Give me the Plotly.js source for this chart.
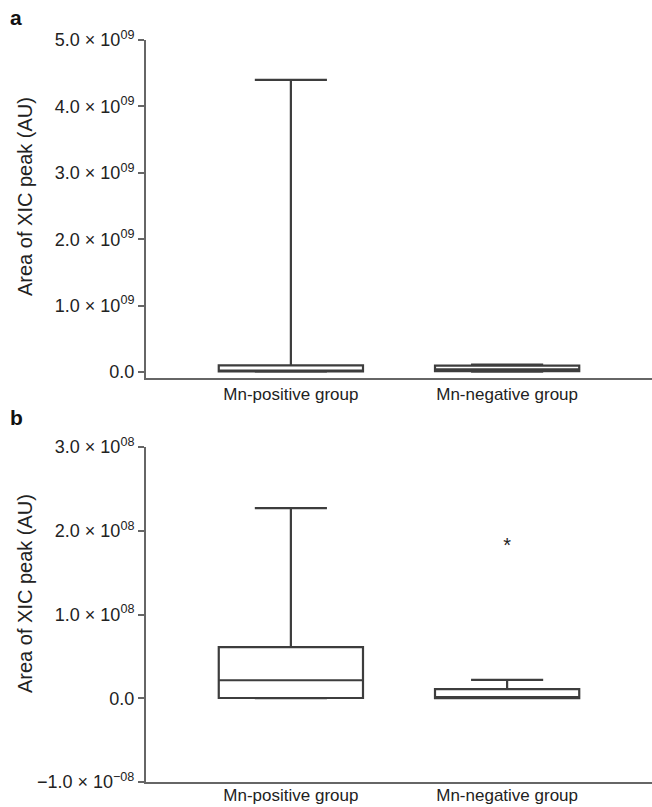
<!DOCTYPE html>
<html>
<head>
<meta charset="utf-8">
<script src="https://cdn.plot.ly/plotly-3.0.1.min.js"></script>
<style>html,body{margin:0;padding:0;background:#fff;} #chart{width:652px;height:807px;}</style>
</head>
<body>
<div id="chart"></div>
<script>
// Categories
var categories = ['Mn-positive group', 'Mn-negative group'];

// Panel a box statistics (AU)
var aLowerFence = [0.004e9, 0.006e9];
var aQ1 = [0.008e9, 0.012e9];
var aMedian = [0.015e9, 0.04e9];
var aQ3 = [0.1e9, 0.095e9];
var aUpperFence = [4.4e9, 0.11e9];

// Panel b box statistics (AU)
var bLowerFence = [0.0, 0.0];
var bQ1 = [0.003e8, 0.002e8];
var bMedian = [0.215e8, 0.005e8];
var bQ3 = [0.61e8, 0.11e8];
var bUpperFence = [2.27e8, 0.22e8];

// Panel b outlier
var bOutlierCat = ['Mn-negative group'];
var bOutlierVal = [1.92e8];

// Tick labels
var aTickVals = [0, 1e9, 2e9, 3e9, 4e9, 5e9];
var aTickText = ['0.0', '1.0 × 10<sup>09</sup>', '2.0 × 10<sup>09</sup>', '3.0 × 10<sup>09</sup>', '4.0 × 10<sup>09</sup>', '5.0 × 10<sup>09</sup>'];
var bTickVals = [-1e8, 0, 1e8, 2e8, 3e8];
var bTickText = ['−1.0 × 10<sup>−08</sup>', '0.0', '1.0 × 10<sup>08</sup>', '2.0 × 10<sup>08</sup>', '3.0 × 10<sup>08</sup>'];
var yTitle = 'Area of XIC peak (AU)';

var lineCol = '#3d3d3d';
var axisCol = '#666666';
var fontFam = 'Liberation Sans, Arial, sans-serif';

var boxStyle = {
  type: 'box',
  x: categories,
  boxpoints: false,
  width: 0.667,
  whiskerwidth: 0.5,
  fillcolor: 'rgba(255,255,255,0)',
  line: {color: lineCol, width: 2.2},
  showlegend: false,
  hoverinfo: 'skip'
};

var traceA = Object.assign({}, boxStyle, {
  lowerfence: aLowerFence, q1: aQ1, median: aMedian, q3: aQ3, upperfence: aUpperFence,
  xaxis: 'x', yaxis: 'y'
});
var traceB = Object.assign({}, boxStyle, {
  lowerfence: bLowerFence, q1: bQ1, median: bMedian, q3: bQ3, upperfence: bUpperFence,
  xaxis: 'x2', yaxis: 'y2'
});
var traceOut = {
  type: 'scatter', mode: 'text', x: bOutlierCat, y: bOutlierVal, text: ['*'],
  textposition: 'bottom center', textfont: {family: fontFam, size: 20, color: '#222'},
  xaxis: 'x2', yaxis: 'y2', showlegend: false, hoverinfo: 'skip', cliponaxis: false
};

var H = 807, W = 652;
function fy(px) { return 1 - px / H; }
var xDom = [146 / W, 1];

var xCommon = {
  type: 'category', range: [-0.67, 1.67], showline: true, linecolor: axisCol, linewidth: 2,
  ticks: '', showgrid: false, zeroline: false, fixedrange: true,
  tickfont: {family: fontFam, size: 17, color: '#222'}
};
var yCommon = {
  showline: true, linecolor: axisCol, linewidth: 2, ticks: 'outside', ticklen: 6, tickwidth: 2,
  tickcolor: axisCol, showgrid: false, zeroline: false, fixedrange: true,
  tickfont: {family: fontFam, size: 18, color: '#222'}, tickmode: 'array'
};

var titleFont = {family: fontFam, size: 20, color: '#222'};

var layout = {
  width: W, height: H,
  margin: {l: 0, r: 0, t: 0, b: 0},
  paper_bgcolor: '#ffffff', plot_bgcolor: '#ffffff',
  font: {family: fontFam, color: '#222'},
  xaxis: Object.assign({}, xCommon, {domain: xDom, anchor: 'y'}),
  yaxis: Object.assign({}, yCommon, {
    domain: [fy(378), fy(40)], anchor: 'x', range: [-0.09e9, 5e9],
    tickvals: aTickVals, ticktext: aTickText
  }),
  xaxis2: Object.assign({}, xCommon, {domain: xDom, anchor: 'y2', ticklabelstandoff: -3}),
  yaxis2: Object.assign({}, yCommon, {
    domain: [fy(782), fy(447)], anchor: 'x2', range: [-1e8, 3e8],
    tickvals: bTickVals, ticktext: bTickText
  }),
  annotations: [
    {text: '<b>a</b>', xref: 'paper', yref: 'paper', x: 8 / W, y: fy(4), xanchor: 'left', yanchor: 'top', showarrow: false, font: {family: fontFam, size: 21, color: '#111'}},
    {text: '<b>b</b>', xref: 'paper', yref: 'paper', x: 8 / W, y: fy(404), xanchor: 'left', yanchor: 'top', showarrow: false, font: {family: fontFam, size: 21, color: '#111'}},
    {text: yTitle, xref: 'paper', yref: 'paper', x: 25 / W, y: fy(197), xanchor: 'center', yanchor: 'middle', textangle: -90, showarrow: false, font: titleFont},
    {text: yTitle, xref: 'paper', yref: 'paper', x: 25 / W, y: fy(594), xanchor: 'center', yanchor: 'middle', textangle: -90, showarrow: false, font: titleFont}
  ]
};

Plotly.newPlot('chart', [traceA, traceB, traceOut], layout, {displayModeBar: false, staticPlot: true});
</script>
</body>
</html>
